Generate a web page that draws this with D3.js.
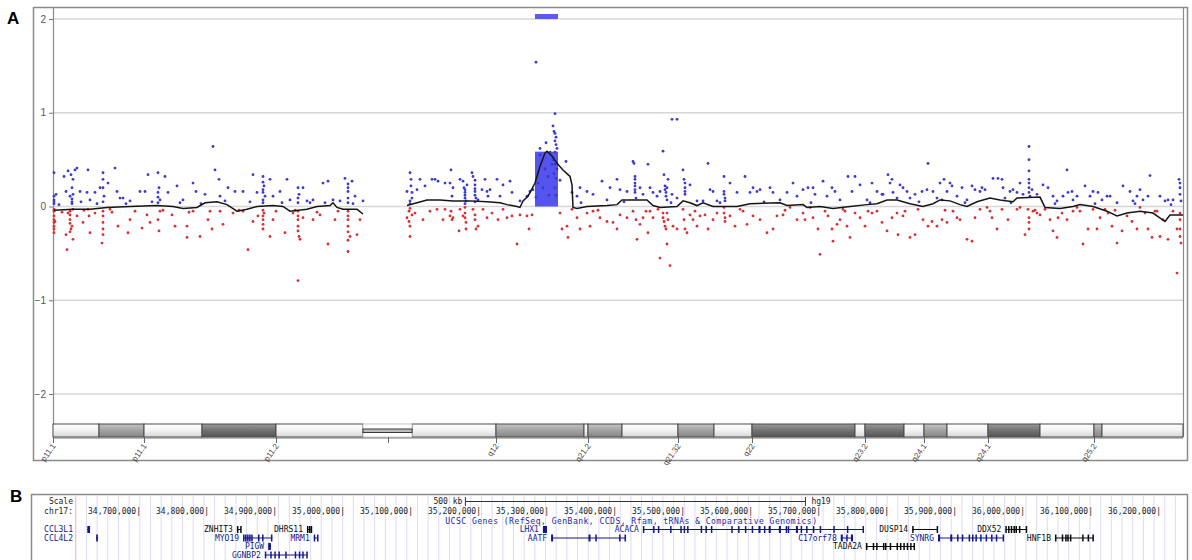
<!DOCTYPE html>
<html>
<head>
<meta charset="utf-8">
<script src="https://cdn.jsdelivr.net/npm/d3@7"></script>
<style>
  body { margin: 0; background: #fff; }
  svg { display: block; }
</style>
</head>
<body>
<svg id="fig" width="1192" height="560"></svg>
<script>
// ---- panel A: probe log2 ratios, position in 100 kb steps from p11.1 ----
var pArmProbes = [
  [1,0.36],[1,0.11],[1,0.07],[1,0.03],[1,0.05],[3,0.13],[11,0.32],[13,0.16],[15,0.38],[17,0.11],[18,0.34],[19,0.20],[19,0.05],[19,0.08],[19,0.03],
  [20,0.29],[20,0.13],[22,0.39],[24,0.41],[27,0.16],[34,0.15],[35,0.39],[37,0.07],[42,0.15],[47,0.20],[50,0.36],[50,0.29],[50,0.05],[50,0.20],
  [51,0.11],[55,0.25],[62,0.41],[64,0.16],[67,0.09],[70,0.09],[77,0.06],[87,0.16],[92,0.16],[95,0.34],[105,0.36],[105,0.04],[105,0.10],[105,0.15],
  [106,0.20],[107,0.07],[112,0.32],[115,0.15],[124,0.22],[130,0.07],[140,0.25],[143,0.16],[152,0.13],[160,0.64],[162,0.39],[166,0.29],[167,0.11],
  [175,0.20],[182,0.16],[190,0.16],[200,0.34],[204,0.15],[210,0.32],[210,0.04],[210,0.07],[210,0.15],[210,0.18],[210,0.26],[211,0.22],[212,0.11],
  [217,0.29],[220,0.11],[227,0.16],[234,0.29],[237,0.07],[245,0.20],[245,0.04],[245,0.09],[246,0.13],[250,0.20],[254,0.06],[260,0.07],[270,0.25],
  [275,0.27],[280,0.07],[287,0.06],[292,0.30],[295,0.16],[295,0.04],[295,0.09],[295,0.20],[295,0.24],[299,0.27],[302,0.11],[310,0.06],
  [1,-0.03],[1,-0.10],[1,-0.21],[1,-0.28],[1,-0.05],[1,-0.14],[1,-0.17],[1,-0.24],[2,-0.16],[13,-0.30],[14,-0.46],[15,-0.07],[17,-0.14],[17,-0.05],
  [17,-0.09],[17,-0.18],[17,-0.27],[18,-0.24],[19,-0.21],[20,-0.03],[20,-0.35],[24,-0.10],[30,-0.17],[35,-0.03],[36,-0.10],[37,-0.28],[42,-0.07],
  [49,-0.39],[50,-0.24],[50,-0.10],[50,-0.05],[50,-0.17],[50,-0.30],[57,-0.03],[65,-0.21],[75,-0.28],[77,-0.14],[89,-0.23],[94,-0.09],[97,-0.17],
  [105,-0.14],[106,-0.26],[107,-0.05],[119,-0.09],[122,-0.21],[134,-0.21],[134,-0.33],[140,-0.05],[147,-0.32],[155,-0.14],[159,-0.24],[167,-0.05],
  [170,-0.19],[180,-0.07],[190,-0.05],[195,-0.46],[200,-0.16],[205,-0.10],[210,-0.24],[210,-0.04],[210,-0.10],[210,-0.14],[210,-0.19],[211,-0.07],
  [217,-0.32],[220,-0.14],[232,-0.28],[240,-0.07],[245,-0.21],[245,-0.05],[245,-0.10],[245,-0.14],[245,-0.26],[246,-0.32],[247,-0.35],[250,-0.12],
  [260,-0.14],[267,-0.09],[275,-0.40],[282,-0.14],[295,-0.21],[295,-0.48],[295,-0.05],[295,-0.10],[295,-0.14],[295,-0.27],[295,-0.36],[297,-0.32],
  [304,-0.30],[307,-0.14],[245,-0.79],
  [6,0.02],[9,-0.06],[28,0.05],[31,-0.04],[44,0.03],[59,-0.06],[73,0.03],[82,-0.05],[99,0.05],[110,-0.04],[127,0.04],[136,-0.06],[148,0.03],
  [157,-0.05],[172,0.06],[186,-0.04],[197,0.05],[223,-0.05],[229,0.04],[242,-0.04],[257,0.04],[264,-0.06],[272,0.04],[285,-0.05],[300,0.03]
];

var qArmProbes = [
  [354,0.16],[357,0.36],[358,0.29],[358,0.22],[359,0.15],[359,0.09],[357,0.03],[357,0.06],[364,0.18],[367,0.29],[372,0.22],[379,0.29],[382,0.29],[385,0.27],
  [354,-0.12],[356,-0.05],[356,-0.16],[357,-0.21],[357,-0.32],[357,-0.02],[359,-0.09],[362,-0.07],[370,-0.14],[377,-0.05],[384,-0.03],
  [392,0.25],[397,0.25],[398,0.39],[399,0.11],[400,0.20],[407,0.29],[410,0.27],[411,0.20],[412,0.15],[412,0.09],[412,0.03],[412,0.12],[412,0.18],
  [413,0.06],[414,0.23],[419,0.36],[420,0.32],[422,0.23],[422,0.16],[422,0.05],[422,0.12],[422,0.19],[422,0.28],[423,0.09],[425,0.07],[429,0.18],
  [432,0.29],[434,0.16],[435,0.11],[437,0.18],[444,0.29],[447,0.11],[450,0.23],[457,0.27],[459,0.15],[467,0.06],[474,0.11],[477,0.16],[480,0.18],
  [390,-0.14],[392,-0.03],[397,-0.10],[398,-0.05],[399,-0.14],[400,-0.12],[406,-0.26],[407,-0.03],[410,-0.10],[412,-0.01],[412,-0.07],[412,-0.12],
  [413,-0.17],[413,-0.24],[420,-0.03],[422,-0.09],[422,-0.14],[423,-0.24],[425,-0.21],[430,-0.03],[434,-0.12],[439,-0.07],[445,-0.14],[450,-0.03],
  [454,-0.12],[459,-0.10],[464,-0.40],[467,-0.09],[474,-0.10],[476,-0.24],[479,-0.09],
  [519,0.15],[524,0.11],[527,0.20],[534,0.16],[540,0.13],[549,0.27],[554,0.07],[557,0.20],[564,0.29],[567,0.18],[574,0.16],[580,0.48],[581,0.46],
  [582,0.32],[582,0.29],[582,0.25],[582,0.22],[582,0.18],[582,0.15],[583,0.09],[587,0.20],[590,0.13],[595,0.45],[597,0.20],[600,0.15],[604,0.11],
  [607,0.16],[610,0.59],[611,0.34],[612,0.22],[612,0.18],[613,0.15],[613,0.11],[614,0.07],[614,0.20],[615,0.29],[619,0.13],[619,0.93],[624,0.93],
  [624,0.09],[630,0.39],[631,0.29],[632,0.25],[632,0.20],[632,0.16],[632,0.13],[637,0.23],[644,0.06],[650,0.06],[655,0.46],[657,0.18],[660,0.16],
  [664,0.06],[671,0.32],[671,0.16],[671,0.13],[672,0.09],[672,0.06],[677,0.25],[684,0.15],[692,0.32],[697,0.15],[700,0.20],[704,0.16],[707,0.18],
  [717,0.20],[720,0.15],[727,0.07],[734,0.15],[740,0.25],[744,0.11],
  [507,-0.07],[509,-0.24],[514,-0.21],[515,-0.33],[519,-0.03],[524,-0.12],[527,-0.24],[534,-0.07],[537,-0.21],[540,-0.05],[547,-0.12],[554,-0.16],
  [560,-0.17],[564,-0.24],[567,-0.09],[574,-0.12],[580,-0.05],[583,-0.14],[584,-0.35],[587,-0.19],[590,-0.12],[595,-0.28],[597,-0.05],[600,-0.12],
  [605,-0.03],[607,-0.55],[610,-0.07],[610,-0.12],[611,-0.16],[612,-0.21],[613,-0.24],[614,-0.40],[614,-0.07],[615,-0.14],[617,-0.63],[620,-0.21],
  [624,-0.24],[630,-0.03],[631,-0.14],[632,-0.24],[634,-0.28],[637,-0.09],[640,-0.14],[644,-0.21],[647,-0.10],[652,-0.09],[655,-0.24],[660,-0.14],
  [664,-0.07],[671,-0.01],[671,-0.07],[672,-0.12],[672,-0.16],[677,-0.10],[682,-0.21],[687,-0.03],[694,-0.19],[700,-0.10],[707,-0.14],[714,-0.28],
  [720,-0.24],[724,-0.10],[730,-0.09],[737,-0.01],[744,-0.14],
  [750,0.18],[755,0.20],[760,0.20],[762,0.13],[770,0.27],[774,0.11],[779,0.20],[782,0.16],[787,0.07],[795,0.32],[799,0.16],[802,0.32],[807,0.23],
  [814,0.07],[819,0.25],[824,0.16],[829,0.13],[830,0.13],[835,0.34],[837,0.25],[839,0.29],[840,0.15],[844,0.09],[847,0.23],[850,0.20],[854,0.16],
  [857,0.09],[862,0.13],[869,0.16],[874,0.18],[875,0.46],[880,0.16],[884,0.09],[887,0.25],[889,0.07],[891,0.29],[894,0.16],[897,0.25],[899,0.22],
  [904,0.11],[909,0.20],[914,0.07],[919,0.22],[922,0.18],[927,0.16],[929,0.20],[932,0.18],[940,0.30],[945,0.30],[949,0.29],[950,0.20],[952,0.09],
  [957,0.16],[960,0.18],[964,0.15],[967,0.25],[970,0.13],[976,0.64],[976,0.50],[976,0.38],[976,0.29],[976,0.25],[976,0.20],[976,0.15],[977,0.11],
  [979,0.18],[984,0.13],[990,0.23],[995,0.20],[1000,0.11],[1004,0.06],[1010,0.11],[1014,0.39],[1015,0.15],[1019,0.16],[1020,0.07],[1024,0.11],
  [1032,0.22],[1037,0.11],[1040,0.16],[1045,0.15],[1049,0.07],[1054,0.11],[1057,0.11],[1064,0.04],[1070,0.22],[1077,0.16],[1080,0.06],[1084,0.11],
  [1087,0.18],[1090,0.07],[1095,0.11],[1097,0.33],[1107,0.11],[1112,0.06],[1115,0.07],[1120,0.07],[1126,0.29],[1127,0.25],[1127,0.20],[1127,0.13],[1128,0.06],
  [750,-0.07],[752,-0.14],[757,-0.01],[760,-0.12],[765,-0.24],[767,-0.51],[772,-0.05],[775,-0.10],[779,-0.24],[780,-0.37],[784,-0.19],[787,-0.14],
  [790,-0.03],[794,-0.21],[797,-0.33],[802,-0.07],[807,-0.12],[812,-0.21],[815,-0.05],[819,-0.07],[824,-0.05],[829,-0.17],[834,-0.26],[839,-0.12],
  [844,-0.07],[845,-0.30],[850,-0.10],[857,-0.33],[862,-0.30],[865,-0.03],[870,-0.14],[875,-0.21],[879,-0.16],[884,-0.21],[889,-0.14],[894,-0.17],
  [900,-0.05],[904,-0.12],[907,-0.14],[914,-0.35],[919,-0.37],[922,-0.12],[927,-0.03],[934,-0.01],[939,-0.12],[944,-0.24],[949,-0.03],[955,-0.14],
  [964,-0.03],[967,-0.01],[972,-0.30],[975,-0.03],[976,-0.12],[976,-0.24],[976,-0.17],[980,-0.05],[984,-0.07],[987,-0.09],[992,-0.03],[997,-0.14],
  [1000,-0.26],[1004,-0.33],[1005,-0.12],[1009,-0.07],[1014,-0.14],[1020,-0.05],[1024,-0.01],[1030,-0.40],[1035,-0.24],[1040,-0.03],[1044,-0.24],
  [1047,-0.12],[1052,-0.03],[1055,-0.07],[1059,-0.21],[1064,-0.39],[1069,-0.26],[1074,-0.10],[1079,-0.16],[1084,-0.24],[1087,-0.01],[1092,-0.07],
  [1095,-0.24],[1099,-0.33],[1102,-0.05],[1107,-0.32],[1110,-0.14],[1115,-0.35],[1120,-0.05],[1124,-0.24],[1127,-0.07],[1127,-0.14],[1127,-0.24],
  [1127,-0.32],[1128,-0.39],[1124,-0.71],
  [528,0.04],[545,-0.04],[571,0.05],[593,-0.05],[618,0.04],[642,-0.05],[667,0.04],[690,-0.05],[711,0.05],[732,-0.04],[758,0.04],[792,-0.05],
  [817,0.04],[852,-0.05],[866,0.05],[892,-0.04],[912,0.04],[937,-0.05],[958,0.04],[982,-0.04],[1002,0.03],[1027,-0.05],[1042,0.03],[1062,-0.04],
  [1082,0.03],[1104,-0.05],[1118,0.02]
];

var peakProbes = [
  [483,1.54],[502,0.99],[500,0.86],[501,0.80],[502,0.78],[503,0.74],[502,0.70],[503,0.66],[504,0.62],[502,0.58],[500,0.50],[502,0.45],[504,0.40],
  [501,0.35],[503,0.30],[502,0.20],[503,0.12],[493,0.68],[487,0.62],[487,0.55],[497,0.58],[499,0.45],[492,0.40],[495,0.32],[490,0.20],[485,0.25],
  [507,0.28],[513,0.48],[483,0.10],[496,0.12]
];

// segmentation (moving average) per arm
var pArmSegments = [[1,-0.04],[20,-0.03],[37,-0.03],[54,-0.01],[77,0.0],[104,0.01],[120,0.0],[130,-0.02],[144,-0.01],[152,0.04],[164,0.05],
  [174,0.02],[184,-0.05],[194,-0.03],[204,0.0],[220,0.01],[230,0.0],[237,-0.05],[254,-0.03],[264,0.0],[277,0.01],[280,0.04],[284,-0.01],
  [290,-0.03],[304,-0.03],[310,-0.08]];
var qArmSegments = [[354,0.01],[374,0.07],[387,0.07],[400,0.06],[417,0.06],[434,0.05],[447,0.04],[454,0.02],[464,0.0],[467,-0.01],[470,0.06],
  [475,0.11],[482,0.25],[487,0.43],[492,0.57],[494,0.59],[499,0.54],[504,0.46],[510,0.39],[515,0.34],[517,0.32],[519,0.23],[520,-0.01],[524,-0.02],
  [534,0.0],[554,0.01],[564,0.02],[569,0.07],[594,0.07],[600,0.01],[607,-0.01],[624,0.0],[630,0.06],[637,0.04],[644,0.01],[650,0.04],[660,0.0],
  [684,0.0],[697,0.03],[727,0.04],[734,0.01],[750,0.02],[754,-0.01],[767,0.0],[780,-0.02],[797,0.0],[814,0.02],[824,0.03],[834,0.07],[844,0.07],
  [857,0.03],[870,0.0],[880,0.03],[887,0.07],[897,0.06],[907,0.02],[914,0.0],[924,0.05],[937,0.09],[947,0.07],[960,0.05],[964,0.09],[987,0.10],
  [992,-0.01],[1007,-0.02],[1020,0.0],[1027,0.02],[1040,0.0],[1054,-0.05],[1064,-0.10],[1074,-0.07],[1087,-0.05],[1100,-0.07],[1112,-0.16],
  [1117,-0.09],[1130,-0.09]];

var gainCall = {start: 482, end: 505, value: 0.585};
var yTicks = [-2, -1, 0, 1, 2];

// cytobands: start, end, stain
var bands = [[0,46,"light"],[46,91,"gray"],[91,149,"light"],[149,223,"dark"],[223,310,"light"],[310,359,"cen"],[359,443,"light"],
  [443,531,"gray"],[531,535,"light"],[535,569,"gray"],[569,625,"light"],[625,661,"gray"],[661,699,"light"],[699,802,"dark"],
  [802,812,"light"],[812,851,"dark"],[851,871,"light"],[871,894,"gray"],[894,935,"light"],[935,987,"dark"],[987,1041,"light"],
  [1041,1049,"gray"],[1049,1130,"light"]];
var bandTicks = [[0,"p11.1"],[91,"p11.1"],[223,"p11.2"],[335,""],[443,"q12"],[535,"q21.2"],[625,"q21.32"],[699,"q22"],
  [812,"q23.2"],[871,"q24.1"],[935,"q24.1"],[1041,"q25.2"]];

// ---- panel B: browser window ----
var viewStart = 34607000;
var scaleTicks = [34700000,34800000,34900000,35000000,35100000,35200000,35300000,35400000,35500000,35600000,35700000,35800000,35900000,36000000,36100000,36200000];
var scaleBar = {start: 35180000, len: 500000, label: "500 kb", build: "hg19"};
var gridStep = 15700;
var trackTitle = "UCSC Genes (RefSeq, GenBank, CCDS, Rfam, tRNAs & Comparative Genomics)";
// exons: [offset kb, length kb]
var genes = [
  {name:"CCL3L1", start:34624000, end:34628000, row:0, col:"blue", exons:[[0,4]]},
  {name:"CCL4L2", start:34637000, end:34640000, row:1, col:"blue", exons:[[0,2.5]]},
  {name:"ZNHIT3", start:34844000, end:34850000, row:0, col:"black", exons:[[0,1.2],[4.8,1.2]]},
  {name:"DHRS11", start:34947000, end:34954000, row:0, col:"black", exons:[[0,1.5],[3,1.5],[5.5,1.5]]},
  {name:"MYO19", start:34853000, end:34896000, row:1, col:"blue", exons:[[0,2],[3,2],[6,2],[9,2],[12,2],[22,1],[28,1],[41,2]]},
  {name:"MRM1", start:34957000, end:34963000, row:1, col:"blue", exons:[[0,1.2],[4.8,1.2]]},
  {name:"PIGW", start:34890000, end:34894000, row:2, col:"blue", exons:[[0,4]]},
  {name:"GGNBP2", start:34885000, end:34947000, row:3, col:"blue", exons:[[0,1],[8,1],[14,1],[20,1],[30,1],[44,2],[50,2],[55,2],[61,1]]},
  {name:"LHX1", start:35294000, end:35300000, row:0, col:"blue", exons:[[0,6]]},
  {name:"ACACA", start:35441000, end:35766000, row:0, col:"blue", exons:[[0,2],[15,2],[22,2],[40,2],[55,2],[60,2],[65,2],[85,2],[92,2],[100,2],
    [130,2],[140,2],[150,2],[160,2],[170,3],[178,2],[185,3],[200,3],[210,2],[213,2],[225,3],[232,2],[240,2],[250,2],[260,2],[280,1],[300,1],[323,2]]},
  {name:"AATF", start:35306000, end:35415000, row:1, col:"blue", exons:[[0,3],[55,3],[65,2],[100,2],[108,1]]},
  {name:"C17orf78", start:35732000, end:35750000, row:1, col:"blue", exons:[[0,3],[8,2],[15,3]]},
  {name:"TADA2A", start:35769000, end:35840000, row:2, col:"black", exons:[[0,1],[10,1],[15,1],[25,2],[28,2],[35,1],[45,1],[50,1],[55,1],[60,1],[65,1],[70,1]]},
  {name:"DUSP14", start:35837000, end:35874000, row:0, col:"black", exons:[[0,1],[36,1]]},
  {name:"DDX52", start:35974000, end:36006000, row:0, col:"black", exons:[[0,2],[4,2],[8,2],[12,2],[15,2],[20,2],[30,2]]},
  {name:"SYNRG", start:35875000, end:35971000, row:1, col:"blue", exons:[[0,3],[18,3],[28,2],[35,2],[45,2],[50,2],[55,2],[62,2],[70,2],[78,2],[85,2],[95,1]]},
  {name:"HNF1B", start:36047000, end:36104000, row:1, col:"black", exons:[[0,1],[10,1],[15,1],[18,1],[22,1],[40,1],[48,1],[55,2]]}
];

var svg = d3.select("#fig");
var defs = svg.append("defs");

function grad(id, stops) {
  var g = defs.append("linearGradient").attr("id", id).attr("x1", 0).attr("y1", 0).attr("x2", 0).attr("y2", 1);
  stops.forEach(function(s) { g.append("stop").attr("offset", s[0]).attr("stop-color", s[1]); });
}
grad("gLight", [[0,"#ffffff"],[0.5,"#f2f2f2"],[1,"#d6d6d6"]]);
grad("gGray", [[0,"#c4c4c4"],[0.5,"#a2a2a2"],[1,"#858585"]]);
grad("gDark", [[0,"#9a9a9a"],[0.5,"#727272"],[1,"#555555"]]);
var bandFill = {light:"url(#gLight)", gray:"url(#gGray)", dark:"url(#gDark)"};

// panel labels
svg.append("text").attr("x", 7).attr("y", 24).text("A")
  .style("font-family", "Liberation Sans, Arial, sans-serif").style("font-weight", "bold").style("font-size", "17px");
svg.append("text").attr("x", 10).attr("y", 502).text("B")
  .style("font-family", "Liberation Sans, Arial, sans-serif").style("font-weight", "bold").style("font-size", "17px");

// ---------------- panel A ----------------
var x = d3.scaleLinear().domain([0, 1130]).range([53, 1183]);
var y = d3.scaleLinear().domain([-2, 2]).range([394, 19]);

var gA = svg.append("g");
gA.append("rect").attr("x", 33.5).attr("y", 7.5).attr("width", 1154).attr("height", 453)
  .attr("fill", "#fff").attr("stroke", "#8a8a8a").attr("stroke-width", 1.5);

gA.append("g").selectAll("line").data(yTicks).enter().append("line")
  .attr("x1", x(0)).attr("x2", x(1130))
  .attr("y1", d => y(d)).attr("y2", d => y(d))
  .attr("stroke", "#d6d6d6").attr("stroke-width", 1.5);

var yAxis = gA.append("g").attr("transform", "translate(" + x(0) + ",0)")
  .call(d3.axisLeft(y).tickValues(yTicks).tickSize(4).tickPadding(3).tickFormat(d3.format("d")));
yAxis.select(".domain").remove();
yAxis.selectAll("line").attr("stroke", "#777");
yAxis.selectAll("text").style("font-family", "Liberation Sans, Arial, sans-serif").style("font-size", "10px").attr("fill", "#555");

gA.append("line").attr("x1", x(0) + 0.5).attr("x2", x(0) + 0.5).attr("y1", 7).attr("y2", 437).attr("stroke", "#8a8a8a").attr("stroke-width", 1.2);
gA.append("line").attr("x1", x(1130) + 0.5).attr("x2", x(1130) + 0.5).attr("y1", 7).attr("y2", 437).attr("stroke", "#8a8a8a").attr("stroke-width", 1.2);

// gain call: top marker and bar
gA.append("rect").attr("x", x(gainCall.start)).attr("width", x(gainCall.end) - x(gainCall.start))
  .attr("y", 14).attr("height", 5).attr("fill", "#5a5af2");
gA.append("rect").attr("x", x(gainCall.start)).attr("width", x(gainCall.end) - x(gainCall.start))
  .attr("y", y(gainCall.value)).attr("height", y(0) - y(gainCall.value)).attr("fill", "#5454ee");

var allProbes = pArmProbes.concat(qArmProbes, peakProbes);
gA.append("g").selectAll("circle").data(allProbes).enter().append("circle")
  .attr("cx", d => x(d[0])).attr("cy", d => y(d[1])).attr("r", 1.4)
  .attr("fill", d => d[1] >= 0 ? "#3a3acf" : "#d93030");

var line = d3.line().x(d => x(d[0])).y(d => y(d[1]));
[pArmSegments, qArmSegments].forEach(function(seg) {
  gA.append("path").datum(seg).attr("d", line).attr("fill", "none").attr("stroke", "#151515").attr("stroke-width", 1.5);
});

// ideogram
var bandTop = 424, bandH = 13;
var gI = gA.append("g");
gI.selectAll("rect.band").data(bands.filter(b => b[2] != "cen")).enter().append("rect")
  .attr("class", "band")
  .attr("x", d => x(d[0])).attr("width", d => x(d[1]) - x(d[0]))
  .attr("y", bandTop).attr("height", bandH)
  .attr("fill", d => bandFill[d[2]]).attr("stroke", "#4a4a4a").attr("stroke-width", 1);
bands.filter(b => b[2] == "cen").forEach(function(b) {
  gI.append("rect").attr("x", x(b[0])).attr("width", x(b[1]) - x(b[0])).attr("y", bandTop).attr("height", bandH)
    .attr("fill", "#fff").attr("stroke", "#bbb").attr("stroke-width", 0.8);
  gI.append("rect").attr("x", x(b[0])).attr("width", x(b[1]) - x(b[0])).attr("y", bandTop + 5).attr("height", 3.5)
    .attr("fill", "#bdbdbd").attr("stroke", "#3a3a3a").attr("stroke-width", 1);
});
gI.append("line").attr("x1", x(0)).attr("x2", x(1130)).attr("y1", bandTop + bandH + 1).attr("y2", bandTop + bandH + 1)
  .attr("stroke", "#777").attr("stroke-width", 1.2);

var bt = gI.selectAll("g.bt").data(bandTicks).enter().append("g").attr("class", "bt")
  .attr("transform", d => "translate(" + x(d[0]) + "," + (bandTop + bandH) + ")");
bt.append("line").attr("x1", 0.5).attr("x2", 0.5).attr("y1", 0).attr("y2", 6).attr("stroke", "#666");
bt.append("text").text(d => d[1])
  .attr("transform", "translate(3,9) rotate(-55)")
  .attr("text-anchor", "end")
  .style("font-family", "Liberation Sans, Arial, sans-serif").style("font-size", "8px").attr("fill", "#444");

// ---------------- panel B ----------------
var gx = d3.scaleLinear().domain([34700000, 36200000]).range([139, 1159]);
var mono = "DejaVu Sans Mono, monospace";
var gB = svg.append("g");
gB.append("rect").attr("x", 31.5).attr("y", 494.5).attr("width", 1156).attr("height", 90)
  .attr("fill", "#fff").attr("stroke", "#8a8a8a").attr("stroke-width", 1.5);

var gridPos = d3.range(viewStart + gridStep, 36320000, gridStep).filter(p => gx(p) < 1186);
gB.append("g").selectAll("line").data(gridPos).enter().append("line")
  .attr("x1", d => gx(d)).attr("x2", d => gx(d)).attr("y1", 496).attr("y2", 560)
  .attr("stroke", "#dcdcf6").attr("stroke-width", 1);
gB.append("line").attr("x1", gx(viewStart)).attr("x2", gx(viewStart)).attr("y1", 496).attr("y2", 560)
  .attr("stroke", "#f2b0b0").attr("stroke-width", 1);

function monoText(g, txt, px, py, anchor, color) {
  return g.append("text").attr("x", px).attr("y", py).attr("text-anchor", anchor).text(txt)
    .style("font-family", mono).style("font-size", "8px").attr("fill", color || "#222");
}
monoText(gB, "Scale", 73, 504, "end");
monoText(gB, "chr17:", 73, 514, "end");
monoText(gB, scaleBar.label, gx(scaleBar.start) - 3, 504, "end");
var sb0 = gx(scaleBar.start), sb1 = gx(scaleBar.start + scaleBar.len);
gB.append("line").attr("x1", sb0).attr("x2", sb1).attr("y1", 501.5).attr("y2", 501.5).attr("stroke", "#333");
[sb0, sb1].forEach(function(p) {
  gB.append("line").attr("x1", p).attr("x2", p).attr("y1", 497).attr("y2", 506).attr("stroke", "#333");
});
monoText(gB, scaleBar.build, sb1 + 6, 504, "start");

gB.append("g").selectAll("text").data(scaleTicks).enter().append("text")
  .attr("x", d => gx(d) + 2).attr("y", 514).attr("text-anchor", "end")
  .text(d => d3.format(",")(d) + "|")
  .style("font-family", mono).style("font-size", "8px").attr("fill", "#222");

monoText(gB, trackTitle, (gx(viewStart) + 1187) / 2, 524, "middle", "#1e1ea6").style("letter-spacing", "0.5px");

var rowY = [532, 540.5, 549, 557.5];
var geneColor = {blue: "#15158f", black: "#0a0a0a"};
genes.forEach(function(g) {
  var c = geneColor[g.col];
  var cy = rowY[g.row] - 3;
  var x0 = gx(g.start), x1 = gx(g.end);
  gB.append("line").attr("x1", x0).attr("x2", x1).attr("y1", cy + 0.5).attr("y2", cy + 0.5).attr("stroke", c).attr("stroke-width", 1);
  g.exons.forEach(function(e) {
    var ex = gx(g.start + e[0] * 1000);
    var ew = Math.max(1.5, gx(g.start + (e[0] + e[1]) * 1000) - ex);
    gB.append("rect").attr("x", ex).attr("y", cy - 3).attr("width", ew).attr("height", 7).attr("fill", c);
  });
  var lx = x0 > 120 ? x0 - 4 : 73;
  monoText(gB, g.name, lx, rowY[g.row], "end", c);
});
</script>
</body>
</html>
